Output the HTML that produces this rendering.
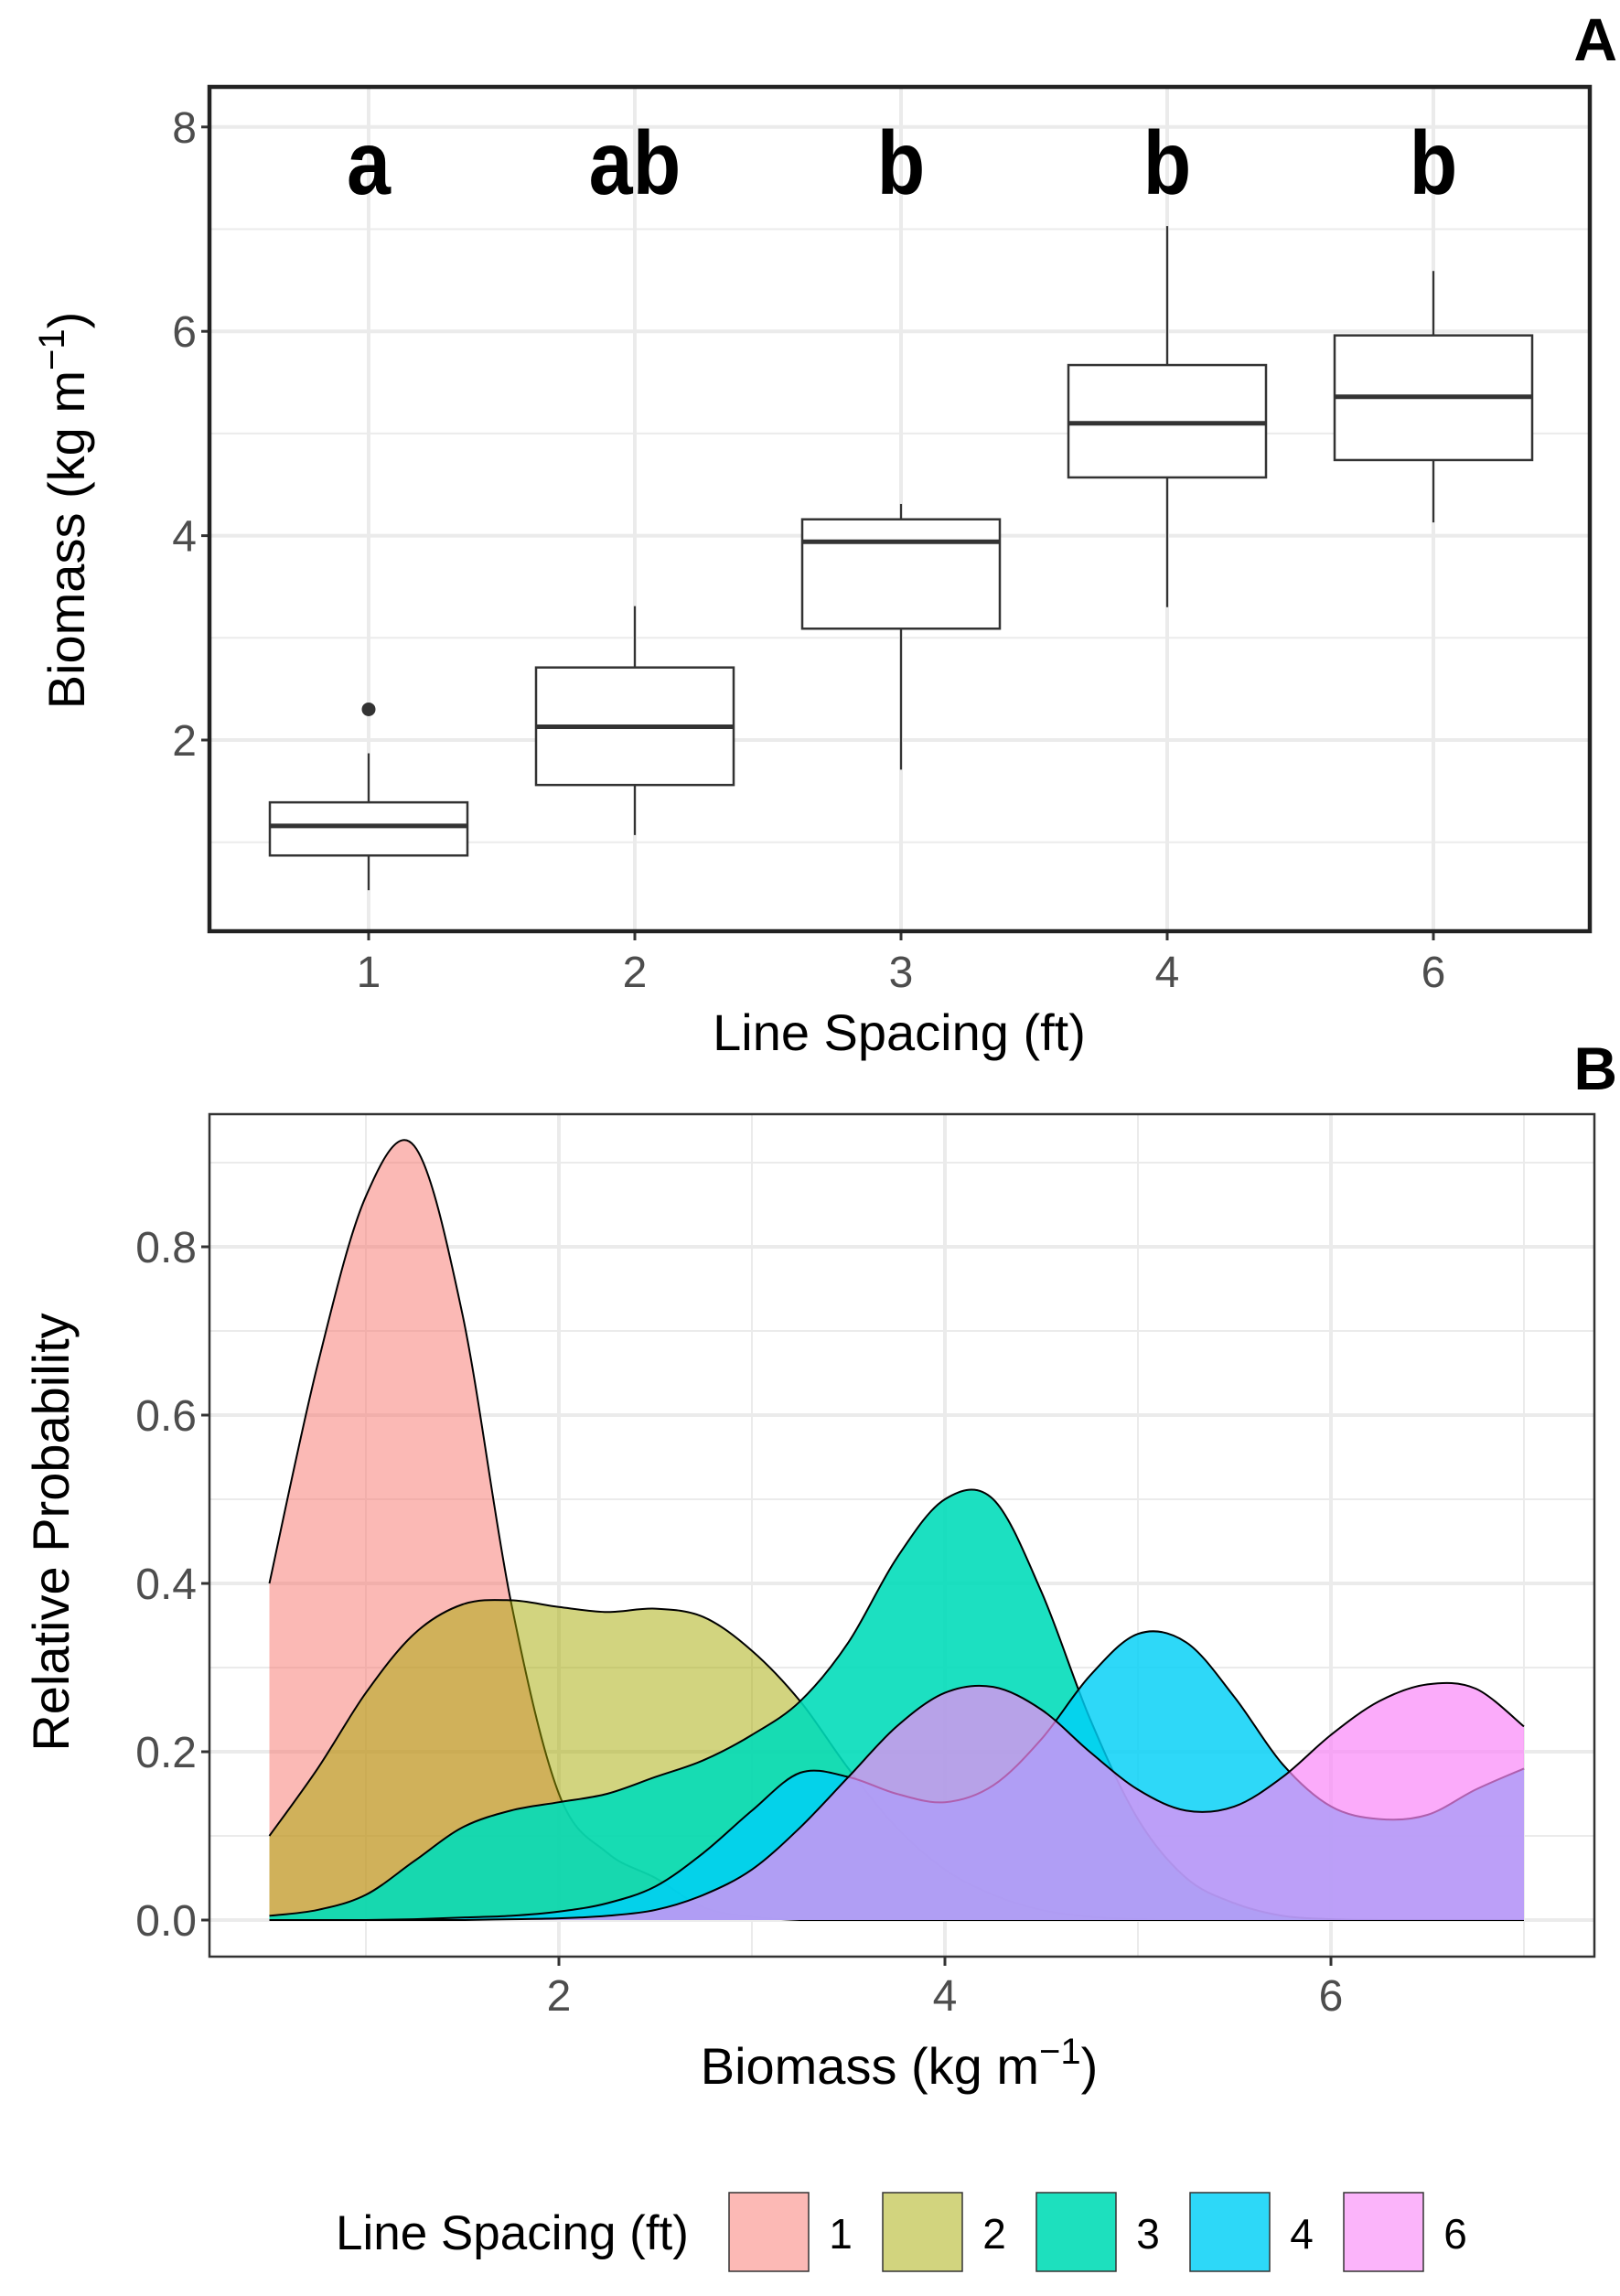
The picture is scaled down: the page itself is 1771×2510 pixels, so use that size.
<!DOCTYPE html>
<html><head><meta charset="utf-8"><style>
html,body{margin:0;padding:0;background:#fff}
svg{display:block}
text{font-family:"Liberation Sans",sans-serif}
</style></head><body>
<svg id="fig" width="1771" height="2510" viewBox="0 0 1771 2510" xmlns="http://www.w3.org/2000/svg">
<g id="pa"></g>
<g id="pb"></g>
<g id="lg"></g>
</svg>
<script>
// ---- Panel A data ----
const boxCats = ["1","2","3","4","6"];
const boxLow = [0.53,1.07,1.71,3.30,4.13];
const boxQ1 = [0.87,1.56,3.09,4.57,4.74];
const boxMed = [1.16,2.13,3.94,5.10,5.36];
const boxQ3 = [1.39,2.71,4.16,5.67,5.96];
const boxHigh = [1.87,3.31,4.31,7.03,6.59];
const outlierCat = [0];
const outlierVal = [2.30];
const sigLetters = ["a","ab","b","b","b"];
const aYTicks = [2,4,6,8];
const aYMinor = [1,3,5,7];

// ---- Panel B data ----
const densX = [0.5,0.75,1,1.25,1.5,1.75,2,2.25,2.5,2.75,3,3.25,3.5,3.75,4,4.25,4.5,4.75,5,5.25,5.5,5.75,6,6.25,6.5,6.75,7];
const dens1 = [0.40,0.66,0.86,0.92,0.72,0.38,0.15,0.08,0.05,0.015,0.004,0,0,0,0,0,0,0,0,0,0,0,0,0,0,0,0];
const dens2 = [0.10,0.18,0.27,0.34,0.375,0.38,0.372,0.366,0.37,0.36,0.32,0.26,0.18,0.11,0.06,0.03,0.012,0.004,0.001,0,0,0,0,0,0,0,0];
const dens3 = [0.005,0.012,0.03,0.07,0.11,0.13,0.14,0.15,0.17,0.19,0.22,0.26,0.33,0.43,0.50,0.50,0.39,0.24,0.12,0.05,0.02,0.005,0.001,0,0,0,0];
const dens4 = [0,0,0,0.001,0.003,0.005,0.01,0.02,0.04,0.08,0.13,0.175,0.17,0.15,0.14,0.16,0.215,0.29,0.34,0.33,0.265,0.185,0.135,0.12,0.125,0.155,0.18];
const dens6 = [0,0,0,0,0,0.001,0.002,0.005,0.012,0.03,0.06,0.11,0.17,0.23,0.27,0.277,0.25,0.20,0.155,0.13,0.135,0.17,0.22,0.26,0.28,0.275,0.23];
const densSeries = [dens1,dens2,dens3,dens4,dens6];
const seriesNames = ["1","2","3","4","6"];
const bXTicks = [2,4,6];
const bXMinor = [1,3,5,7];
const bYTicks = [0,0.2,0.4,0.6,0.8];
const bYTickLabels = ["0.0","0.2","0.4","0.6","0.8"];
const bYMinor = [0.1,0.3,0.5,0.7,0.9];

const fillCols = ["#F8746B","#A5A900","#00DCB9","#00CFF6","#F988F8"];
const fillOps = [0.5,0.5,0.89,0.82,0.7];
const keyCols = ["#FCB9B5","#D2D47E","#1DE0BE","#2DD8F8","#FBB4FA"];

const NS="http://www.w3.org/2000/svg";
function mk(parent,tag,attrs,txt){const e=document.createElementNS(NS,tag);for(const k in attrs)e.setAttribute(k,attrs[k]);if(txt!==undefined)e.textContent=txt;parent.appendChild(e);return e;}

// ===== Panel A =====
const pa=document.getElementById('pa');
const A={l:229,r:1738,t:95,b:1018};
const aY=v=>809-(v-2)*111.7;
const aX=i=>403+i*291;
for(const v of aYMinor){const g=mk(pa,'line',{x1:A.l,x2:A.r,y1:aY(v),y2:aY(v),stroke:'#EBEBEB','stroke-width':2});

}
for(const v of aYTicks){const g=mk(pa,'line',{x1:A.l,x2:A.r,y1:aY(v),y2:aY(v),stroke:'#EBEBEB','stroke-width':4});


const t=mk(pa,'line',{x1:A.l-9,x2:A.l,y1:aY(v),y2:aY(v),stroke:'#333','stroke-width':3});


const lb=mk(pa,'text',{x:A.l-14,y:aY(v)+17,'text-anchor':'end','font-size':48,fill:'#4D4D4D'},String(v));

}
boxCats.forEach((c,i)=>{const x=aX(i);
const g=mk(pa,'line',{x1:x,x2:x,y1:A.t,y2:A.b,stroke:'#EBEBEB','stroke-width':4});


const grp=mk(pa,'g',{});


mk(grp,'line',{x1:x,x2:x,y1:aY(boxHigh[i]),y2:aY(boxQ3[i]),stroke:'#333','stroke-width':2.2});
mk(grp,'line',{x1:x,x2:x,y1:aY(boxQ1[i]),y2:aY(boxLow[i]),stroke:'#333','stroke-width':2.2});
mk(grp,'rect',{x:x-108,y:aY(boxQ3[i]),width:216,height:aY(boxQ1[i])-aY(boxQ3[i]),fill:'#fff',stroke:'#333','stroke-width':2.5});
mk(grp,'line',{x1:x-108,x2:x+108,y1:aY(boxMed[i]),y2:aY(boxMed[i]),stroke:'#333','stroke-width':5});
const t=mk(pa,'line',{x1:x,x2:x,y1:A.b,y2:A.b+10,stroke:'#333','stroke-width':3});


const lb=mk(pa,'text',{x:x,y:1079,'text-anchor':'middle','font-size':48,fill:'#4D4D4D'},c);


const sl=mk(pa,'text',{x:x,y:212,'text-anchor':'middle','font-size':98,'font-weight':'bold',fill:'#000',transform:`translate(${x},0) scale(0.88,1) translate(${-x},0)`},sigLetters[i]);


});
outlierCat.forEach((ci,j)=>{const o=mk(pa,'circle',{cx:aX(ci),cy:aY(outlierVal[j]),r:7.5,fill:'#333'});

});
const fa=mk(pa,'rect',{x:A.l,y:A.t,width:A.r-A.l,height:A.b-A.t,fill:'none',stroke:'#222','stroke-width':4.5});


const axt=mk(pa,'text',{x:983,y:1148,'text-anchor':'middle','font-size':56,fill:'#000'},'Line Spacing (ft)');


const ayt=mk(pa,'text',{x:0,y:0,'text-anchor':'middle','font-size':56,fill:'#000',transform:'translate(92,558) rotate(-90)'});


ayt.innerHTML='Biomass (kg m<tspan dy="-22" font-size="40">−1</tspan><tspan dy="22">)</tspan>';
const la=mk(pa,'text',{x:1768,y:66,'text-anchor':'end','font-size':66,'font-weight':'bold',fill:'#000'},'A');



// ===== Panel B =====
const pb=document.getElementById('pb');
const B={l:229,r:1743,t:1218,b:2139};
const bX=v=>611+(v-2)*211;
const bY=v=>2099-v*920;
for(const v of bYMinor){const g=mk(pb,'line',{x1:B.l,x2:B.r,y1:bY(v),y2:bY(v),stroke:'#EBEBEB','stroke-width':2});

}
for(const v of bXMinor){const g=mk(pb,'line',{x1:bX(v),x2:bX(v),y1:B.t,y2:B.b,stroke:'#EBEBEB','stroke-width':2});

}
bYTicks.forEach((v,i)=>{const g=mk(pb,'line',{x1:B.l,x2:B.r,y1:bY(v),y2:bY(v),stroke:'#EBEBEB','stroke-width':4});


const t=mk(pb,'line',{x1:B.l-9,x2:B.l,y1:bY(v),y2:bY(v),stroke:'#333','stroke-width':3});


const lb=mk(pb,'text',{x:B.l-14,y:bY(v)+17,'text-anchor':'end','font-size':48,fill:'#4D4D4D'},bYTickLabels[i]);

});
bXTicks.forEach(v=>{const g=mk(pb,'line',{x1:bX(v),x2:bX(v),y1:B.t,y2:B.b,stroke:'#EBEBEB','stroke-width':4});


const t=mk(pb,'line',{x1:bX(v),x2:bX(v),y1:B.b,y2:B.b+10,stroke:'#333','stroke-width':3});


const lb=mk(pb,'text',{x:bX(v),y:2198,'text-anchor':'middle','font-size':48,fill:'#4D4D4D'},String(v));

});
function smoothPath(xs,ys){let d=`M${bX(xs[0])},${bY(ys[0])}`;
for(let i=0;i<xs.length-1;i++){const p0=[bX(xs[Math.max(0,i-1)]),bY(ys[Math.max(0,i-1)])],p1=[bX(xs[i]),bY(ys[i])],p2=[bX(xs[i+1]),bY(ys[i+1])],p3=[bX(xs[Math.min(xs.length-1,i+2)]),bY(ys[Math.min(xs.length-1,i+2)])];
const c1=[p1[0]+(p2[0]-p0[0])/6,Math.min(bY(0),p1[1]+(p2[1]-p0[1])/6)],c2=[p2[0]-(p3[0]-p1[0])/6,Math.min(bY(0),p2[1]-(p3[1]-p1[1])/6)];
d+=` C${c1[0]},${c1[1]} ${c2[0]},${c2[1]} ${p2[0]},${p2[1]}`;}
return d;}
densSeries.forEach((ys,i)=>{const top=smoothPath(densX,ys);
const a=mk(pb,'path',{d:top+` L${bX(densX[densX.length-1])},${bY(0)} L${bX(densX[0])},${bY(0)} Z`,fill:fillCols[i],'fill-opacity':fillOps[i],stroke:'none'});


const l=mk(pb,'path',{d:top,fill:'none',stroke:'#000','stroke-width':2});

});
const fb=mk(pb,'rect',{x:B.l,y:B.t,width:B.r-B.l,height:B.b-B.t,fill:'none',stroke:'#333','stroke-width':2.5});


const bxt=mk(pb,'text',{x:983,y:2278,'text-anchor':'middle','font-size':56,fill:'#000'});


bxt.innerHTML='Biomass (kg m<tspan dy="-22" font-size="40">−1</tspan><tspan dy="22">)</tspan>';
const byt=mk(pb,'text',{x:0,y:0,'text-anchor':'middle','font-size':56,fill:'#000',transform:'translate(75,1675) rotate(-90)'},'Relative Probability');


const lbB=mk(pb,'text',{x:1768,y:1191,'text-anchor':'end','font-size':66,'font-weight':'bold',fill:'#000'},'B');



// ===== Legend =====
const lg=document.getElementById('lg');
const lt=mk(lg,'text',{x:367,y:2459,'font-size':53,fill:'#000'},'Line Spacing (ft)');


seriesNames.forEach((n,i)=>{const x=797+i*168;
const k=mk(lg,'rect',{x:x,y:2397,width:87,height:86,fill:keyCols[i],stroke:'#333','stroke-width':1.5});


const t=mk(lg,'text',{x:x+122,y:2458,'text-anchor':'middle','font-size':46,fill:'#000'},n);

});
</script>
</body></html>
